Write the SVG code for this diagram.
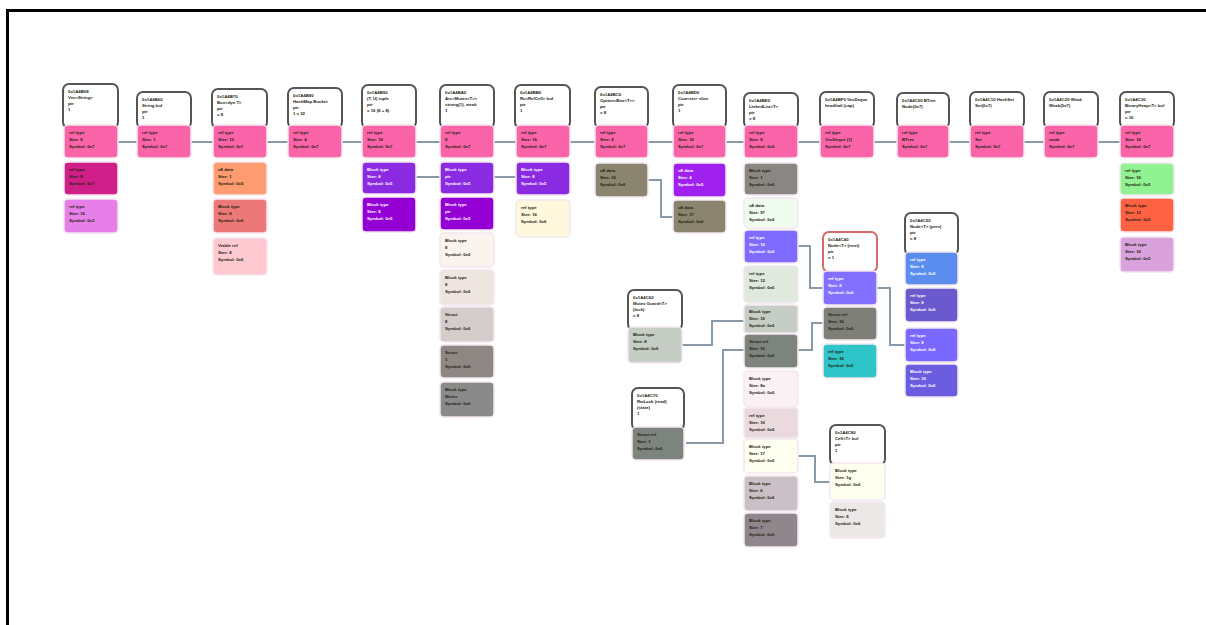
<svg xmlns="http://www.w3.org/2000/svg" width="1206" height="625" viewBox="0 0 1206 625">
<style>
.h{fill:#fff;stroke:#555;stroke-width:2}
.hr{fill:#fff;stroke:#d46a6a;stroke-width:2}
.b{stroke:#f4e8f0;stroke-width:1.5}
.c{fill:none;stroke:#8a99a8;stroke-width:2}
text{font-family:"Liberation Sans",Arial,sans-serif;font-size:4.3px;font-weight:bold;fill:#221}
.w{fill:#fff}
</style>
<rect x="0" y="0" width="1206" height="625" fill="#fff"/>
<path d="M7.5 625 V10.5 H1206" fill="none" stroke="#000" stroke-width="3"/>
<g id="connectors">
<path class="c" d="M118 142 H1120"/>
<path class="c" d="M415 177 H515"/>
<path class="c" d="M647 180 H661 V217 H673"/>
<path class="c" d="M797 246 H810 V288 H823"/>
<path class="c" d="M877 288 H890 V345 H905"/>
<path class="c" d="M797 350 H812 V323 H823"/>
<path class="c" d="M682 345 H712 V321 H744"/>
<path class="c" d="M686 443 H723 V350 H744"/>
<path class="c" d="M797 456 H815 V482 H830"/>
</g>
<g id="n1">
<rect class="h" x="63" y="84" width="55" height="44" rx="6"/>
<text x="68" y="93">0x1A4B58</text><text x="68" y="99">Vec&lt;String&gt;</text><text x="68" y="105">ptr</text><text x="68" y="111">1</text>
<rect class="b" x="64" y="125" width="54" height="33" rx="4" fill="#fb64a8"/>
<text x="69" y="134">ref type</text><text x="69" y="141">Size: 8</text><text x="69" y="148">Symbol: 0x7</text>
<rect class="b" x="64" y="162" width="54" height="33" rx="4" fill="#d01f88"/>
<text x="69" y="171">ref type</text><text x="69" y="178">Size: 8</text><text x="69" y="185">Symbol: 0x7</text>
<rect class="b" x="64" y="199" width="54" height="34" rx="4" fill="#e77fe9"/>
<text x="69" y="208">ref type</text><text x="69" y="215">Size: 16</text><text x="69" y="222">Symbol: 0x3</text>
</g>
<g id="n2">
<rect class="h" x="137" y="92" width="54" height="36" rx="6"/>
<text x="142" y="101">0x1A4B60</text><text x="142" y="107">String buf</text><text x="142" y="113">ptr</text><text x="142" y="119">1</text>
<rect class="b" x="137" y="125" width="54" height="33" rx="4" fill="#fb64a8"/>
<text x="142" y="134">ref type</text><text x="142" y="141">Size: 1</text><text x="142" y="148">Symbol: 0x7</text>
</g>
<g id="n3">
<rect class="h" x="212" y="89" width="55" height="39" rx="6"/>
<text x="217" y="98">0x1A4B70</text><text x="217" y="104">Box&lt;dyn T&gt;</text><text x="217" y="110">ptr</text><text x="217" y="116">= 8</text>
<rect class="b" x="213" y="125" width="54" height="33" rx="4" fill="#fb64a8"/>
<text x="218" y="134">ref type</text><text x="218" y="141">Size: 12</text><text x="218" y="148">Symbol: 0x7</text>
<rect class="b" x="213" y="162" width="54" height="33" rx="4" fill="#ff9b70"/>
<text x="218" y="171">u8 data</text><text x="218" y="178">Size: 1</text><text x="218" y="185">Symbol: 0x5</text>
<rect class="b" x="213" y="199" width="54" height="34" rx="4" fill="#ec7878"/>
<text x="218" y="208">Block type</text><text x="218" y="215">Size: 8</text><text x="218" y="222">Symbol: 0x6</text>
<rect class="b" x="213" y="238" width="54" height="37" rx="4" fill="#ffc9d2"/>
<text x="218" y="247">Vtable ref</text><text x="218" y="254">Size: 8</text><text x="218" y="261">Symbol: 0x6</text>
</g>
<g id="n4">
<rect class="h" x="288" y="88" width="54" height="40" rx="6"/>
<text x="293" y="97">0x1A4B80</text><text x="293" y="103">HashMap Bucket</text><text x="293" y="109">ptr</text><text x="293" y="115">1 x 32</text>
<rect class="b" x="288" y="125" width="54" height="33" rx="4" fill="#fb64a8"/>
<text x="293" y="134">ref type</text><text x="293" y="141">Size: 4</text><text x="293" y="148">Symbol: 0x7</text>
</g>
<g id="n5">
<rect class="h" x="362" y="85" width="54" height="43" rx="6"/>
<text x="367" y="94">0x1A4B90</text><text x="367" y="100">(T, U) tuple</text><text x="367" y="106">ptr</text><text x="367" y="112">= 16 (8 + 8)</text>
<rect class="b" x="362" y="125" width="54" height="33" rx="4" fill="#fb64a8"/>
<text x="367" y="134">ref type</text><text x="367" y="141">Size: 16</text><text x="367" y="148">Symbol: 0x7</text>
<rect class="b" x="362" y="162" width="54" height="32" rx="4" fill="#8a2be2"/>
<text class="w" x="367" y="171">Block type</text><text class="w" x="367" y="178">Size: 8</text><text class="w" x="367" y="185">Symbol: 0x5</text>
<rect class="b" x="362" y="197" width="54" height="35" rx="4" fill="#9400d3"/>
<text class="w" x="367" y="206">Block type</text><text class="w" x="367" y="213">Size: 8</text><text class="w" x="367" y="220">Symbol: 0x5</text>
</g>
<g id="n6">
<rect class="h" x="440" y="85" width="54" height="43" rx="6"/>
<text x="445" y="94">0x1A4BA0</text><text x="445" y="100">Arc&lt;Mutex&lt;T&gt;&gt;</text><text x="445" y="106">strong(1), weak</text><text x="445" y="112">1</text>
<rect class="b" x="440" y="125" width="54" height="33" rx="4" fill="#fb64a8"/>
<text x="445" y="134">ref type</text><text x="445" y="141">8</text><text x="445" y="148">Symbol: 0x7</text>
<rect class="b" x="440" y="162" width="54" height="32" rx="4" fill="#8a2be2"/>
<text class="w" x="445" y="171">Block type</text><text class="w" x="445" y="178">ptr</text><text class="w" x="445" y="185">Symbol: 0x5</text>
<rect class="b" x="440" y="197" width="54" height="33" rx="4" fill="#9400d3"/>
<text class="w" x="445" y="206">Block type</text><text class="w" x="445" y="213">ptr</text><text class="w" x="445" y="220">Symbol: 0x5</text>
<rect class="b" x="440" y="233" width="54" height="34" rx="4" fill="#fbf3ee"/>
<text x="445" y="242">Block type</text><text x="445" y="249">8</text><text x="445" y="256">Symbol: 0x6</text>
<rect class="b" x="440" y="270" width="54" height="35" rx="4" fill="#eee5e0"/>
<text x="445" y="279">Block type</text><text x="445" y="286">8</text><text x="445" y="293">Symbol: 0x6</text>
<rect class="b" x="440" y="307" width="54" height="35" rx="4" fill="#d3ccca"/>
<text x="445" y="316">Struct</text><text x="445" y="323">8</text><text x="445" y="330">Symbol: 0x6</text>
<rect class="b" x="440" y="345" width="54" height="33" rx="4" fill="#8e8784"/>
<text x="445" y="354">Struct</text><text x="445" y="361">1</text><text x="445" y="368">Symbol: 0x6</text>
<rect class="b" x="440" y="382" width="54" height="35" rx="4" fill="#8a8a8a"/>
<text x="445" y="391">Block type</text><text x="445" y="398">Mutex</text><text x="445" y="405">Symbol: 0x6</text>
</g>
<g id="n7">
<rect class="h" x="515" y="85" width="55" height="43" rx="6"/>
<text x="520" y="94">0x1A4BB0</text><text x="520" y="100">Rc&lt;RefCell&gt; buf</text><text x="520" y="106">ptr</text><text x="520" y="112">1</text>
<rect class="b" x="516" y="125" width="54" height="33" rx="4" fill="#fb64a8"/>
<text x="521" y="134">ref type</text><text x="521" y="141">Size: 16</text><text x="521" y="148">Symbol: 0x7</text>
<rect class="b" x="516" y="162" width="54" height="33" rx="4" fill="#8a2be2"/>
<text class="w" x="521" y="171">Block type</text><text class="w" x="521" y="178">Size: 8</text><text class="w" x="521" y="185">Symbol: 0x5</text>
<rect class="b" x="516" y="200" width="54" height="37" rx="4" fill="#fff8dc"/>
<text x="521" y="209">ref type</text><text x="521" y="216">Size: 16</text><text x="521" y="223">Symbol: 0x6</text>
</g>
<g id="n8">
<rect class="h" x="595" y="87" width="53" height="41" rx="6"/>
<text x="600" y="96">0x1A4BC0</text><text x="600" y="102">Option&lt;Box&lt;T&gt;&gt;</text><text x="600" y="108">ptr</text><text x="600" y="114">= 8</text>
<rect class="b" x="595" y="125" width="53" height="33" rx="4" fill="#fb64a8"/>
<text x="600" y="134">ref type</text><text x="600" y="141">Size: 8</text><text x="600" y="148">Symbol: 0x7</text>
<rect class="b" x="595" y="163" width="53" height="34" rx="4" fill="#8b8570"/>
<text x="600" y="172">u8 data</text><text x="600" y="179">Size: 16</text><text x="600" y="186">Symbol: 0x6</text>
</g>
<g id="n9">
<rect class="h" x="673" y="85" width="53" height="43" rx="6"/>
<text x="678" y="94">0x1A4BD0</text><text x="678" y="100">Cow&lt;str&gt; slice</text><text x="678" y="106">ptr</text><text x="678" y="112">1</text>
<rect class="b" x="673" y="125" width="53" height="33" rx="4" fill="#fb64a8"/>
<text x="678" y="134">ref type</text><text x="678" y="141">Size: 16</text><text x="678" y="148">Symbol: 0x7</text>
<rect class="b" x="673" y="163" width="53" height="34" rx="4" fill="#a020f0"/>
<text class="w" x="678" y="172">u8 data</text><text class="w" x="678" y="179">Size: 4</text><text class="w" x="678" y="186">Symbol: 0x5</text>
<rect class="b" x="673" y="200" width="53" height="33" rx="4" fill="#8b8570"/>
<text x="678" y="209">u8 data</text><text x="678" y="216">Size: 17</text><text x="678" y="223">Symbol: 0x6</text>
</g>
<g id="n10">
<rect class="h" x="744" y="93" width="54" height="35" rx="6"/>
<text x="749" y="102">0x1A4BE0</text><text x="749" y="108">LinkedList&lt;T&gt;</text><text x="749" y="114">ptr</text><text x="749" y="120">= 8</text>
<rect class="b" x="744" y="125" width="54" height="33" rx="4" fill="#fb64a8"/>
<text x="749" y="134">ref type</text><text x="749" y="141">Size: 8</text><text x="749" y="148">Symbol: 0x6</text>
<rect class="b" x="744" y="163" width="54" height="32" rx="4" fill="#8a8682"/>
<text x="749" y="172">Block type</text><text x="749" y="179">Size: 1</text><text x="749" y="186">Symbol: 0x6</text>
<rect class="b" x="744" y="198" width="54" height="30" rx="4" fill="#f0fcf0"/>
<text x="749" y="207">u8 data</text><text x="749" y="214">Size: 97</text><text x="749" y="221">Symbol: 0x6</text>
<rect class="b" x="744" y="230" width="54" height="33" rx="4" fill="#7f6bff"/>
<text class="w" x="749" y="239">ref type</text><text class="w" x="749" y="246">Size: 16</text><text class="w" x="749" y="253">Symbol: 0x6</text>
<rect class="b" x="744" y="266" width="54" height="37" rx="4" fill="#dfe9de"/>
<text x="749" y="275">ref type</text><text x="749" y="282">Size: 12</text><text x="749" y="289">Symbol: 0x6</text>
<rect class="b" x="744" y="305" width="54" height="28" rx="3" fill="#c5cdc5"/>
<text x="749" y="313">Block type</text><text x="749" y="320">Size: 16</text><text x="749" y="327">Symbol: 0x6</text>
<rect class="b" x="744" y="334" width="54" height="34" rx="4" fill="#7d847d"/>
<text x="749" y="343">Struct ref</text><text x="749" y="350">Size: 16</text><text x="749" y="357">Symbol: 0x6</text>
<rect class="b" x="744" y="371" width="54" height="36" rx="4" fill="#fbf0f4"/>
<text x="749" y="380">Block type</text><text x="749" y="387">Size: 8a</text><text x="749" y="394">Symbol: 0x6</text>
<rect class="b" x="744" y="408" width="54" height="30" rx="3" fill="#eadade"/>
<text x="749" y="417">ref type</text><text x="749" y="424">Size: 16</text><text x="749" y="431">Symbol: 0x6</text>
<rect class="b" x="744" y="439" width="54" height="34" rx="4" fill="#fffff2"/>
<text x="749" y="448">Block type</text><text x="749" y="455">Size: 17</text><text x="749" y="462">Symbol: 0x6</text>
<rect class="b" x="744" y="476" width="54" height="35" rx="4" fill="#cac0c5"/>
<text x="749" y="485">Block type</text><text x="749" y="492">Size: 6</text><text x="749" y="499">Symbol: 0x6</text>
<rect class="b" x="744" y="513" width="54" height="34" rx="4" fill="#8f878b"/>
<text x="749" y="522">Block type</text><text x="749" y="529">Size: 7</text><text x="749" y="536">Symbol: 0x6</text>
</g>
<g id="n11">
<rect class="h" x="820" y="92" width="54" height="36" rx="6"/>
<text x="825" y="101">0x1A4BF0 VecDeque</text><text x="825" y="107">head/tail (cap)</text>
<rect class="b" x="820" y="125" width="54" height="33" rx="4" fill="#fb64a8"/>
<text x="825" y="134">ref type</text><text x="825" y="141">VecDeque (1)</text><text x="825" y="148">Symbol: 0x7</text>
</g>
<g id="n12">
<rect class="h" x="897" y="93" width="52" height="35" rx="6"/>
<text x="902" y="102">0x1A4C00 BTree</text><text x="902" y="108">Node(0x7)</text>
<rect class="b" x="897" y="125" width="52" height="33" rx="4" fill="#fb64a8"/>
<text x="902" y="134">ref type</text><text x="902" y="141">BTree</text><text x="902" y="148">Symbol: 0x7</text>
</g>
<g id="n13">
<rect class="h" x="970" y="92" width="54" height="36" rx="6"/>
<text x="975" y="101">0x1A4C10 HashSet</text><text x="975" y="107">Set(0x7)</text>
<rect class="b" x="970" y="125" width="54" height="33" rx="4" fill="#fb64a8"/>
<text x="975" y="134">ref type</text><text x="975" y="141">Set</text><text x="975" y="148">Symbol: 0x7</text>
</g>
<g id="n14">
<rect class="h" x="1044" y="92" width="54" height="36" rx="6"/>
<text x="1049" y="101">0x1A4C20 Weak</text><text x="1049" y="107">Weak(0x7)</text>
<rect class="b" x="1044" y="125" width="54" height="33" rx="4" fill="#fb64a8"/>
<text x="1049" y="134">ref type</text><text x="1049" y="141">weak</text><text x="1049" y="148">Symbol: 0x7</text>
</g>
<g id="n15">
<rect class="h" x="1120" y="92" width="54" height="36" rx="6"/>
<text x="1125" y="101">0x1A4C30</text><text x="1125" y="107">BinaryHeap&lt;T&gt; buf</text><text x="1125" y="113">ptr</text><text x="1125" y="119">= 16</text>
<rect class="b" x="1120" y="125" width="54" height="33" rx="4" fill="#fb64a8"/>
<text x="1125" y="134">ref type</text><text x="1125" y="141">Size: 16</text><text x="1125" y="148">Symbol: 0x7</text>
<rect class="b" x="1120" y="163" width="54" height="32" rx="4" fill="#90f290"/>
<text x="1125" y="172">ref type</text><text x="1125" y="179">Size: 16</text><text x="1125" y="186">Symbol: 0x5</text>
<rect class="b" x="1120" y="198" width="54" height="34" rx="4" fill="#ff6242"/>
<text x="1125" y="207">Block type</text><text x="1125" y="214">Size: 12</text><text x="1125" y="221">Symbol: 0x5</text>
<rect class="b" x="1120" y="237" width="54" height="35" rx="4" fill="#d9a2dc"/>
<text x="1125" y="246">Block type</text><text x="1125" y="253">Size: 16</text><text x="1125" y="260">Symbol: 0x5</text>
</g>
<g id="n16">
<rect class="hr" x="823" y="232" width="54" height="40" rx="6"/>
<text x="828" y="241">0x1A4C40</text><text x="828" y="247">Node&lt;T&gt; (next)</text><text x="828" y="253">ptr</text><text x="828" y="259">= 1</text>
<rect class="b" x="823" y="271" width="54" height="34" rx="4" fill="#8470ff"/>
<text class="w" x="828" y="280">ref type</text><text class="w" x="828" y="287">Size: 8</text><text class="w" x="828" y="294">Symbol: 0x6</text>
<rect class="b" x="823" y="307" width="54" height="33" rx="4" fill="#7e8078"/>
<text x="828" y="316">Struct ref</text><text x="828" y="323">Size: 16</text><text x="828" y="330">Symbol: 0x6</text>
<rect class="b" x="823" y="344" width="54" height="34" rx="4" fill="#2ec4c8"/>
<text x="828" y="353">ref type</text><text x="828" y="360">Size: 16</text><text x="828" y="367">Symbol: 0x5</text>
</g>
<g id="n17">
<rect class="h" x="905" y="213" width="53" height="42" rx="6"/>
<text x="910" y="222">0x1A4C50</text><text x="910" y="228">Node&lt;T&gt; (prev)</text><text x="910" y="234">ptr</text><text x="910" y="240">= 8</text>
<rect class="b" x="905" y="252" width="53" height="33" rx="4" fill="#5b8def"/>
<text class="w" x="910" y="261">ref type</text><text class="w" x="910" y="268">Size: 8</text><text class="w" x="910" y="275">Symbol: 0x5</text>
<rect class="b" x="905" y="288" width="53" height="34" rx="4" fill="#6a5acd"/>
<text class="w" x="910" y="297">ref type</text><text class="w" x="910" y="304">Size: 8</text><text class="w" x="910" y="311">Symbol: 0x6</text>
<rect class="b" x="905" y="328" width="53" height="34" rx="4" fill="#7b68ff"/>
<text class="w" x="910" y="337">ref type</text><text class="w" x="910" y="344">Size: 8</text><text class="w" x="910" y="351">Symbol: 0x6</text>
<rect class="b" x="905" y="364" width="53" height="33" rx="4" fill="#6c5ce0"/>
<text class="w" x="910" y="373">Block type</text><text class="w" x="910" y="380">Size: 16</text><text class="w" x="910" y="387">Symbol: 0x6</text>
</g>
<g id="n18">
<rect class="h" x="628" y="290" width="54" height="40" rx="6"/>
<text x="633" y="299">0x1A4C60</text><text x="633" y="305">Mutex Guard&lt;T&gt;</text><text x="633" y="311">(lock)</text><text x="633" y="317">= 8</text>
<rect class="b" x="628" y="327" width="54" height="36" rx="4" fill="#c5cdc5"/>
<text x="633" y="336">Block type</text><text x="633" y="343">Size: 8</text><text x="633" y="350">Symbol: 0x6</text>
</g>
<g id="n19">
<rect class="h" x="632" y="388" width="52" height="42" rx="6"/>
<text x="637" y="397">0x1A4C70</text><text x="637" y="403">RwLock (read)</text><text x="637" y="409">(state)</text><text x="637" y="415">1</text>
<rect class="b" x="632" y="427" width="52" height="33" rx="4" fill="#7d847d"/>
<text x="637" y="436">Struct ref</text><text x="637" y="443">Size: 1</text><text x="637" y="450">Symbol: 0x6</text>
</g>
<g id="n20">
<rect class="h" x="830" y="425" width="55" height="40" rx="6"/>
<text x="835" y="434">0x1A4C80</text><text x="835" y="440">Cell&lt;T&gt; buf</text><text x="835" y="446">ptr</text><text x="835" y="452">1</text>
<rect class="b" x="830" y="463" width="55" height="37" rx="4" fill="#fffff0"/>
<text x="835" y="472">Block type</text><text x="835" y="479">Size: 1g</text><text x="835" y="486">Symbol: 0x6</text>
<rect class="b" x="830" y="502" width="55" height="36" rx="4" fill="#ece8e8"/>
<text x="835" y="511">Block type</text><text x="835" y="518">Size: 8</text><text x="835" y="525">Symbol: 0x6</text>
</g>
</svg>
